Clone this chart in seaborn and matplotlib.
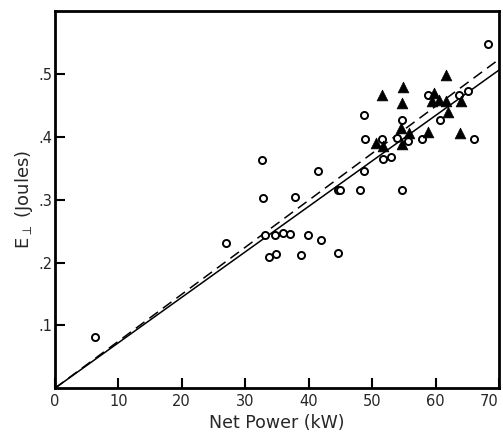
import numpy as np
import pandas as pd
import matplotlib
matplotlib.use("Agg")
import matplotlib.pyplot as plt
import seaborn as sns

# Open circles
circ_x = [6.3, 26.9, 32.6, 32.8, 33.2, 33.8, 34.8, 34.7, 35.9, 37.0, 37.8, 38.8, 39.9,
          41.5, 41.9, 44.7, 44.7, 44.9, 48.1, 48.8, 48.9, 48.8, 51.6, 51.8, 53.0, 53.9,
          54.7, 54.7, 55.7, 57.8, 58.8, 60.7, 63.7, 65.1, 66.1, 68.2]
circ_y = [0.081, 0.231, 0.363, 0.302, 0.243, 0.209, 0.214, 0.244, 0.247, 0.246, 0.304, 0.212, 0.244,
          0.346, 0.236, 0.316, 0.215, 0.315, 0.315, 0.434, 0.397, 0.345, 0.396, 0.365, 0.367, 0.398,
          0.426, 0.316, 0.394, 0.396, 0.467, 0.426, 0.466, 0.472, 0.397, 0.547]

# Filled triangles
tri_x = [50.6, 51.5, 51.7, 54.5, 54.7, 54.7, 54.8, 55.8, 58.8, 59.5, 59.8, 60.6, 61.6,
         61.7, 61.9, 63.9, 64.0]
tri_y = [0.390, 0.467, 0.385, 0.414, 0.388, 0.454, 0.479, 0.406, 0.407, 0.457, 0.470, 0.459, 0.457,
         0.498, 0.439, 0.406, 0.457]

# Fit lines (through origin)
line_x = [0, 70]
solid_y = [0.0, 0.506]
dashed_y = [0.0, 0.523]

x_ticks = [0, 10, 20, 30, 40, 50, 60, 70]
y_ticks = [0.1, 0.2, 0.3, 0.4, 0.5]
y_ticklabels = [".1", ".2", ".3", ".4", ".5"]

sns.set_style("ticks")
plt.rcParams['font.family'] = ['DejaVu Sans']
plt.rcParams['mathtext.default'] = 'regular'

fig = plt.figure(figsize=(5.03, 4.38), dpi=100)
ax = fig.add_axes([0.109, 0.1135, 0.883, 0.8615])

df_c = pd.DataFrame({"x": circ_x, "y": circ_y})
df_t = pd.DataFrame({"x": tri_x, "y": tri_y})
df_s = pd.DataFrame({"x": line_x, "y": solid_y})
df_d = pd.DataFrame({"x": line_x, "y": dashed_y})

sns.lineplot(data=df_s, x="x", y="y", ax=ax, color="black", linewidth=1.1)
sns.lineplot(data=df_d, x="x", y="y", ax=ax, color="black", linewidth=1.1,
             linestyle=(0, (7, 4)))
sns.scatterplot(data=df_c, x="x", y="y", ax=ax, marker="o", s=26,
                facecolor="white", edgecolor="black", linewidth=1.4, zorder=3)
sns.scatterplot(data=df_t, x="x", y="y", ax=ax, marker="^", s=60,
                color="black", edgecolor="black", linewidth=0.5, zorder=4)

ax.set_xlim(0, 70)
ax.set_ylim(0, 0.6)
ax.set_xticks(x_ticks)
ax.set_xticklabels([str(t) for t in x_ticks])
ax.set_yticks(y_ticks)
ax.set_yticklabels(y_ticklabels)
ax.tick_params(direction="in", length=7, width=1.5, labelsize=10.5, color="black")
ax.tick_params(axis="x", pad=4)
ax.tick_params(axis="y", pad=2)
ax.get_xticklabels()[-1].set_horizontalalignment("right")
ax.get_xticklabels()[-1].set_x(70)
for sp in ax.spines.values():
    sp.set_linewidth(2)
    sp.set_color("black")
    sp.set_visible(True)

ax.set_xlabel("Net Power (kW)", fontsize=12.5, labelpad=4)
ax.set_ylabel(r"$E_{\perp}$ (Joules)", fontsize=13, labelpad=2)

fig.savefig("out.png", dpi=100)
